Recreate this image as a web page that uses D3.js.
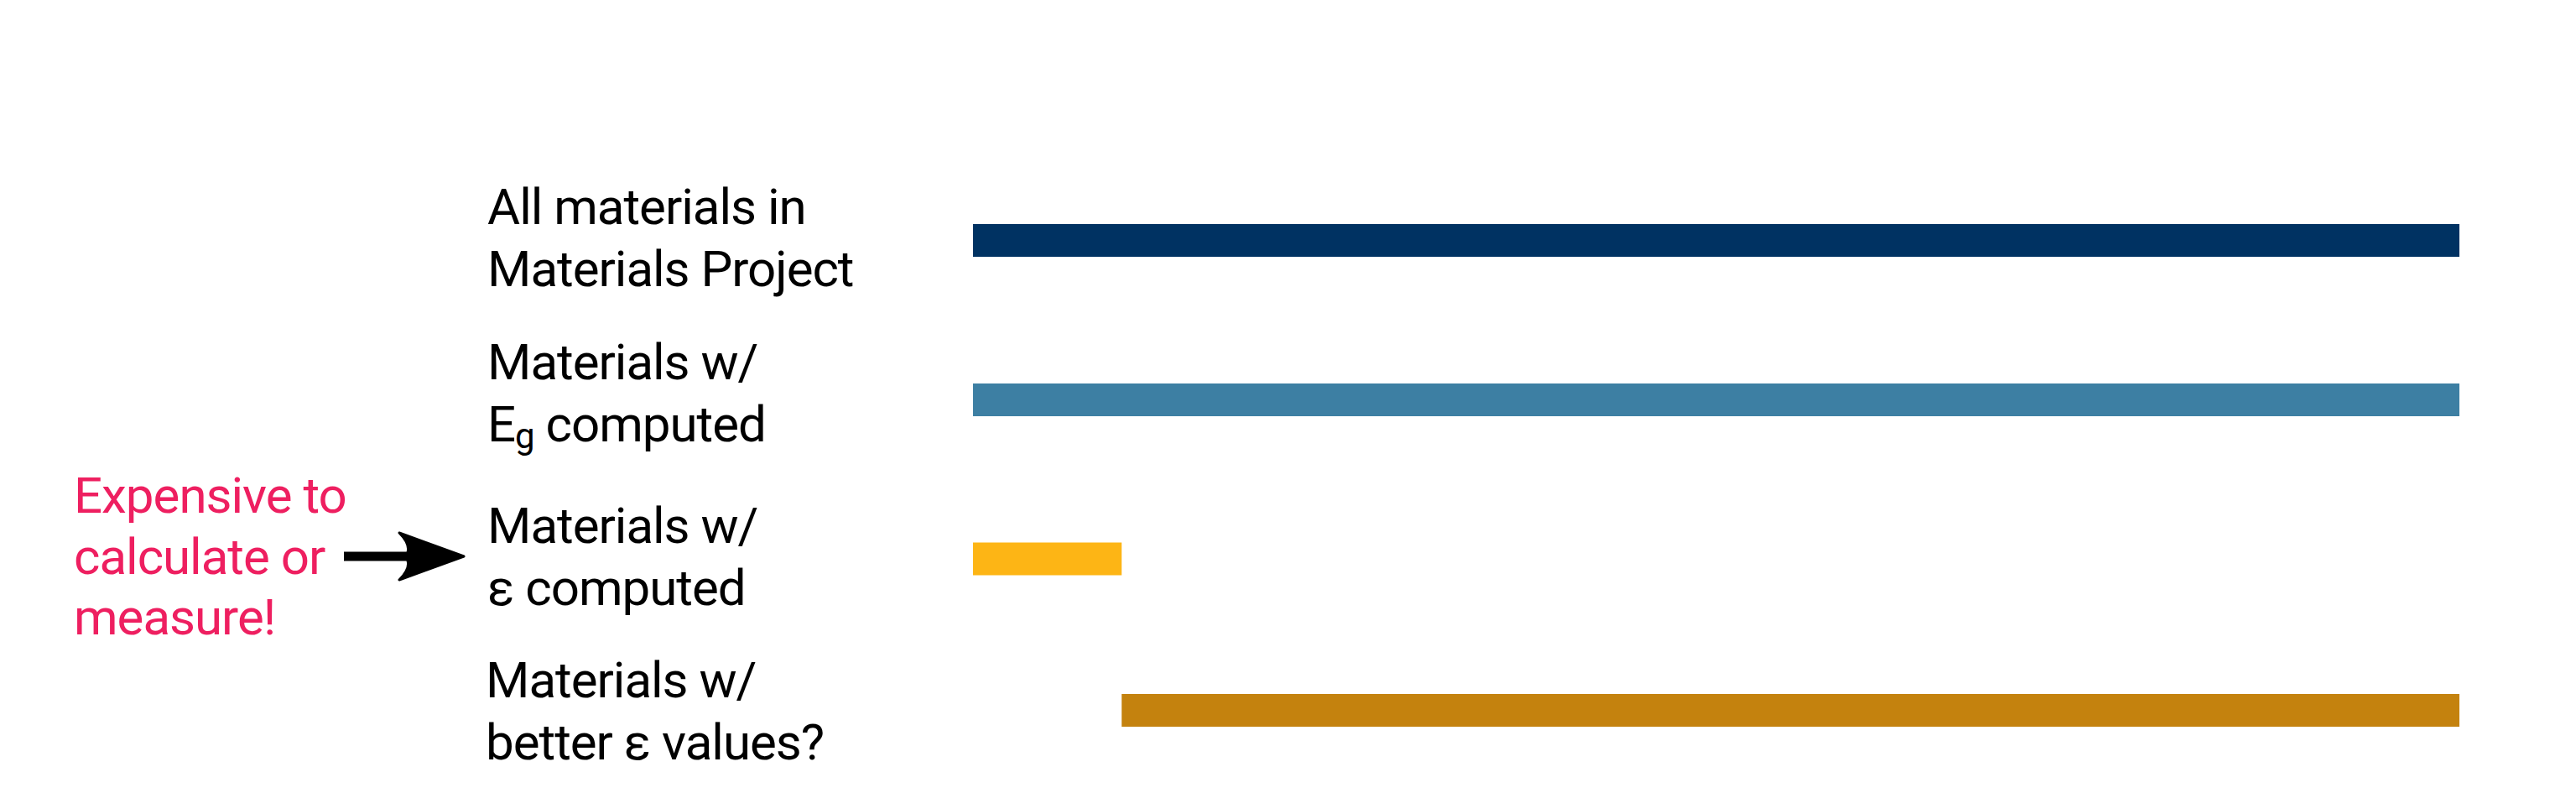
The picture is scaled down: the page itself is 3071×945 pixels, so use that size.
<!DOCTYPE html>
<html>
<head>
<meta charset="utf-8">
<script src="https://cdn.jsdelivr.net/npm/d3@7"></script>
<style>
  html, body { margin: 0; padding: 0; background: #ffffff; }
  svg { display: block; }
  text { font-family: Roboto, "Noto Sans", sans-serif; letter-spacing: -1px; }
</style>
</head>
<body>
<svg id="chart" width="3071" height="945"></svg>
<script>
// ---- data ----
const categories = ["all", "eg", "eps", "better"];
const barStart = [0, 0, 0, 10];
const barEnd = [100, 100, 10, 100];
const barColors = ["#003262", "#3d7fa3", "#fdb515", "#c4820e"];
const labelLine1 = ["All materials in", "Materials w/", "Materials w/", "Materials w/"];
const labelLine2 = ["Materials Project", "E|g| computed", "ε computed", "better ε values?"];
const noteLines = ["Expensive to", "calculate or", "measure!"];

// ---- layout ----
const svg = d3.select("#chart");
const x = d3.scaleLinear().domain([0, 100]).range([1160, 2932]);
const yCenter = d3.scaleOrdinal().domain(categories).range([286.5, 476.5, 666, 846.5]);
const labelBase = d3.scaleOrdinal().domain(categories).range([267, 452, 647, 831]);
const labelX = d3.scaleOrdinal().domain(categories).range([581, 581, 581, 579]);
const barH = 39;
const fontSize = 60;
const lineGap = 73.5;

const rows = categories.map((c, i) => ({
  c, s: barStart[i], e: barEnd[i], color: barColors[i], l1: labelLine1[i], l2: labelLine2[i]
}));

svg.selectAll("rect.bar").data(rows).enter().append("rect")
  .attr("class", "bar")
  .attr("x", d => x(d.s))
  .attr("width", d => x(d.e) - x(d.s))
  .attr("y", d => yCenter(d.c) - barH / 2)
  .attr("height", barH)
  .attr("fill", d => d.color);

const lab = svg.selectAll("g.lab").data(rows).enter().append("g").attr("class", "lab");
lab.append("text")
  .attr("x", d => labelX(d.c))
  .attr("y", d => labelBase(d.c))
  .attr("font-size", fontSize)
  .attr("fill", "#000")
  .text(d => d.l1);
lab.each(function(d) {
  const t = d3.select(this).append("text")
    .attr("x", labelX(d.c))
    .attr("y", labelBase(d.c) + lineGap)
    .attr("font-size", fontSize)
    .attr("fill", "#000");
  const parts = d.l2.split("|");
  if (parts.length === 3) {
    t.append("tspan").text(parts[0]);
    t.append("tspan").attr("font-size", 42).attr("dy", 8).text(parts[1]);
    t.append("tspan").attr("dy", -8).text(parts[2]);
  } else {
    t.text(d.l2);
  }
});

// ---- annotation ----
const note = svg.append("text")
  .attr("x", 88)
  .attr("y", 611)
  .attr("font-size", fontSize)
  .attr("fill", "#ee1f60");
note.selectAll("tspan").data(noteLines).enter().append("tspan")
  .attr("x", 88)
  .attr("dy", (d, i) => i === 0 ? 0 : 72.5)
  .text(d => d);

// arrow pointing at the ε row
const ay = yCenter("eps") - 3;
svg.append("rect")
  .attr("x", 410).attr("y", ay - 5.5).attr("width", 82).attr("height", 11)
  .attr("fill", "#000");
svg.append("path")
  .attr("d", `M 553 ${ay} L 476 ${ay - 28} Q 492 ${ay - 12} 484 ${ay} Q 492 ${ay + 12} 476 ${ay + 28} Z`)
  .attr("fill", "#000")
  .attr("stroke", "#000")
  .attr("stroke-width", 3)
  .attr("stroke-linejoin", "round");
</script>
</body>
</html>
